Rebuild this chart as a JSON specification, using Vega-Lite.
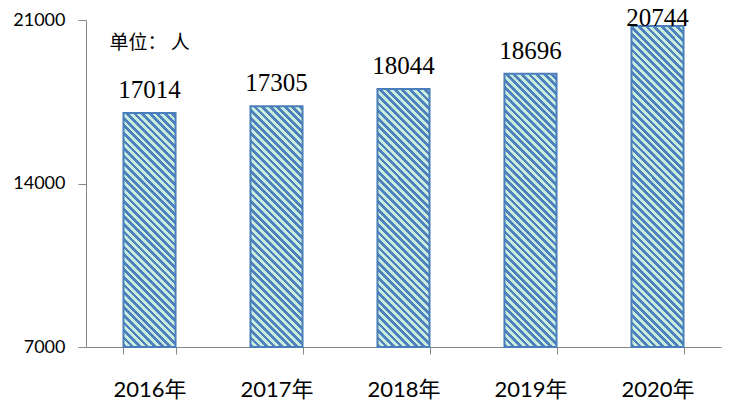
{
  "$schema": "https://vega.github.io/schema/vega-lite/v6.json",
  "width": 635,
  "height": 327,
  "autosize": {"type": "none"},
  "padding": {"left": 86, "top": 20, "right": 23, "bottom": 56},
  "background": "white",
  "config": {
    "view": {"stroke": null},
    "axisY": {
      "grid": false,
      "domainColor": "#868686",
      "tickColor": "#868686",
      "tickSize": 8,
      "labelFont": "Lato",
      "labelFontSize": 18,
      "labelColor": "black",
      "labelPadding": 13
    }
  },
  "data": {
    "values": [
      {"year": "2016年", "value": 17014},
      {"year": "2017年", "value": 17305},
      {"year": "2018年", "value": 18044},
      {"year": "2019年", "value": 18696},
      {"year": "2020年", "value": 20744}
    ]
  },
  "encoding": {
    "x": {
      "field": "year",
      "type": "nominal",
      "sort": null,
      "title": null,
      "scale": {"paddingInner": 0.59, "paddingOuter": 0.295},
      "axis": {
        "labelAngle": 0,
        "domainColor": "#868686",
        "tickColor": "#868686",
        "tickSize": 7,
        "tickBand": "extent",
        "labelFont": "Lato, Noto Sans CJK SC",
        "labelFontSize": 22,
        "labelColor": "black",
        "labelBaseline": "alphabetic",
        "labelPadding": 42
      }
    }
  },
  "layer": [
    {
      "mark": {
        "type": "bar",
        "fill": {
          "gradient": "linear",
          "x1": 0, "y1": 1, "x2": 0.18003, "y2": -0.13057,
          "stops": [
            {"offset": 0, "color": "#4f81bd"},
            {"offset": 0.01, "color": "#4f81bd"}, {"offset": 0.01, "color": "#c8ecde"},
            {"offset": 0.02, "color": "#c8ecde"}, {"offset": 0.02, "color": "#4f81bd"},
            {"offset": 0.03, "color": "#4f81bd"}, {"offset": 0.03, "color": "#c8ecde"},
            {"offset": 0.04, "color": "#c8ecde"}, {"offset": 0.04, "color": "#4f81bd"},
            {"offset": 0.05, "color": "#4f81bd"}, {"offset": 0.05, "color": "#c8ecde"},
            {"offset": 0.06, "color": "#c8ecde"}, {"offset": 0.06, "color": "#4f81bd"},
            {"offset": 0.07, "color": "#4f81bd"}, {"offset": 0.07, "color": "#c8ecde"},
            {"offset": 0.08, "color": "#c8ecde"}, {"offset": 0.08, "color": "#4f81bd"},
            {"offset": 0.09, "color": "#4f81bd"}, {"offset": 0.09, "color": "#c8ecde"},
            {"offset": 0.10, "color": "#c8ecde"}, {"offset": 0.10, "color": "#4f81bd"},
            {"offset": 0.11, "color": "#4f81bd"}, {"offset": 0.11, "color": "#c8ecde"},
            {"offset": 0.12, "color": "#c8ecde"}, {"offset": 0.12, "color": "#4f81bd"},
            {"offset": 0.13, "color": "#4f81bd"}, {"offset": 0.13, "color": "#c8ecde"},
            {"offset": 0.14, "color": "#c8ecde"}, {"offset": 0.14, "color": "#4f81bd"},
            {"offset": 0.15, "color": "#4f81bd"}, {"offset": 0.15, "color": "#c8ecde"},
            {"offset": 0.16, "color": "#c8ecde"}, {"offset": 0.16, "color": "#4f81bd"},
            {"offset": 0.17, "color": "#4f81bd"}, {"offset": 0.17, "color": "#c8ecde"},
            {"offset": 0.18, "color": "#c8ecde"}, {"offset": 0.18, "color": "#4f81bd"},
            {"offset": 0.19, "color": "#4f81bd"}, {"offset": 0.19, "color": "#c8ecde"},
            {"offset": 0.20, "color": "#c8ecde"}, {"offset": 0.20, "color": "#4f81bd"},
            {"offset": 0.21, "color": "#4f81bd"}, {"offset": 0.21, "color": "#c8ecde"},
            {"offset": 0.22, "color": "#c8ecde"}, {"offset": 0.22, "color": "#4f81bd"},
            {"offset": 0.23, "color": "#4f81bd"}, {"offset": 0.23, "color": "#c8ecde"},
            {"offset": 0.24, "color": "#c8ecde"}, {"offset": 0.24, "color": "#4f81bd"},
            {"offset": 0.25, "color": "#4f81bd"}, {"offset": 0.25, "color": "#c8ecde"},
            {"offset": 0.26, "color": "#c8ecde"}, {"offset": 0.26, "color": "#4f81bd"},
            {"offset": 0.27, "color": "#4f81bd"}, {"offset": 0.27, "color": "#c8ecde"},
            {"offset": 0.28, "color": "#c8ecde"}, {"offset": 0.28, "color": "#4f81bd"},
            {"offset": 0.29, "color": "#4f81bd"}, {"offset": 0.29, "color": "#c8ecde"},
            {"offset": 0.30, "color": "#c8ecde"}, {"offset": 0.30, "color": "#4f81bd"},
            {"offset": 0.31, "color": "#4f81bd"}, {"offset": 0.31, "color": "#c8ecde"},
            {"offset": 0.32, "color": "#c8ecde"}, {"offset": 0.32, "color": "#4f81bd"},
            {"offset": 0.33, "color": "#4f81bd"}, {"offset": 0.33, "color": "#c8ecde"},
            {"offset": 0.34, "color": "#c8ecde"}, {"offset": 0.34, "color": "#4f81bd"},
            {"offset": 0.35, "color": "#4f81bd"}, {"offset": 0.35, "color": "#c8ecde"},
            {"offset": 0.36, "color": "#c8ecde"}, {"offset": 0.36, "color": "#4f81bd"},
            {"offset": 0.37, "color": "#4f81bd"}, {"offset": 0.37, "color": "#c8ecde"},
            {"offset": 0.38, "color": "#c8ecde"}, {"offset": 0.38, "color": "#4f81bd"},
            {"offset": 0.39, "color": "#4f81bd"}, {"offset": 0.39, "color": "#c8ecde"},
            {"offset": 0.40, "color": "#c8ecde"}, {"offset": 0.40, "color": "#4f81bd"},
            {"offset": 0.41, "color": "#4f81bd"}, {"offset": 0.41, "color": "#c8ecde"},
            {"offset": 0.42, "color": "#c8ecde"}, {"offset": 0.42, "color": "#4f81bd"},
            {"offset": 0.43, "color": "#4f81bd"}, {"offset": 0.43, "color": "#c8ecde"},
            {"offset": 0.44, "color": "#c8ecde"}, {"offset": 0.44, "color": "#4f81bd"},
            {"offset": 0.45, "color": "#4f81bd"}, {"offset": 0.45, "color": "#c8ecde"},
            {"offset": 0.46, "color": "#c8ecde"}, {"offset": 0.46, "color": "#4f81bd"},
            {"offset": 0.47, "color": "#4f81bd"}, {"offset": 0.47, "color": "#c8ecde"},
            {"offset": 0.48, "color": "#c8ecde"}, {"offset": 0.48, "color": "#4f81bd"},
            {"offset": 0.49, "color": "#4f81bd"}, {"offset": 0.49, "color": "#c8ecde"},
            {"offset": 0.50, "color": "#c8ecde"}, {"offset": 0.50, "color": "#4f81bd"},
            {"offset": 0.51, "color": "#4f81bd"}, {"offset": 0.51, "color": "#c8ecde"},
            {"offset": 0.52, "color": "#c8ecde"}, {"offset": 0.52, "color": "#4f81bd"},
            {"offset": 0.53, "color": "#4f81bd"}, {"offset": 0.53, "color": "#c8ecde"},
            {"offset": 0.54, "color": "#c8ecde"}, {"offset": 0.54, "color": "#4f81bd"},
            {"offset": 0.55, "color": "#4f81bd"}, {"offset": 0.55, "color": "#c8ecde"},
            {"offset": 0.56, "color": "#c8ecde"}, {"offset": 0.56, "color": "#4f81bd"},
            {"offset": 0.57, "color": "#4f81bd"}, {"offset": 0.57, "color": "#c8ecde"},
            {"offset": 0.58, "color": "#c8ecde"}, {"offset": 0.58, "color": "#4f81bd"},
            {"offset": 0.59, "color": "#4f81bd"}, {"offset": 0.59, "color": "#c8ecde"},
            {"offset": 0.60, "color": "#c8ecde"}, {"offset": 0.60, "color": "#4f81bd"},
            {"offset": 0.61, "color": "#4f81bd"}, {"offset": 0.61, "color": "#c8ecde"},
            {"offset": 0.62, "color": "#c8ecde"}, {"offset": 0.62, "color": "#4f81bd"},
            {"offset": 0.63, "color": "#4f81bd"}, {"offset": 0.63, "color": "#c8ecde"},
            {"offset": 0.64, "color": "#c8ecde"}, {"offset": 0.64, "color": "#4f81bd"},
            {"offset": 0.65, "color": "#4f81bd"}, {"offset": 0.65, "color": "#c8ecde"},
            {"offset": 0.66, "color": "#c8ecde"}, {"offset": 0.66, "color": "#4f81bd"},
            {"offset": 0.67, "color": "#4f81bd"}, {"offset": 0.67, "color": "#c8ecde"},
            {"offset": 0.68, "color": "#c8ecde"}, {"offset": 0.68, "color": "#4f81bd"},
            {"offset": 0.69, "color": "#4f81bd"}, {"offset": 0.69, "color": "#c8ecde"},
            {"offset": 0.70, "color": "#c8ecde"}, {"offset": 0.70, "color": "#4f81bd"},
            {"offset": 0.71, "color": "#4f81bd"}, {"offset": 0.71, "color": "#c8ecde"},
            {"offset": 0.72, "color": "#c8ecde"}, {"offset": 0.72, "color": "#4f81bd"},
            {"offset": 0.73, "color": "#4f81bd"}, {"offset": 0.73, "color": "#c8ecde"},
            {"offset": 0.74, "color": "#c8ecde"}, {"offset": 0.74, "color": "#4f81bd"},
            {"offset": 0.75, "color": "#4f81bd"}, {"offset": 0.75, "color": "#c8ecde"},
            {"offset": 0.76, "color": "#c8ecde"}, {"offset": 0.76, "color": "#4f81bd"},
            {"offset": 0.77, "color": "#4f81bd"}, {"offset": 0.77, "color": "#c8ecde"},
            {"offset": 0.78, "color": "#c8ecde"}, {"offset": 0.78, "color": "#4f81bd"},
            {"offset": 0.79, "color": "#4f81bd"}, {"offset": 0.79, "color": "#c8ecde"},
            {"offset": 0.80, "color": "#c8ecde"}, {"offset": 0.80, "color": "#4f81bd"},
            {"offset": 0.81, "color": "#4f81bd"}, {"offset": 0.81, "color": "#c8ecde"},
            {"offset": 0.82, "color": "#c8ecde"}, {"offset": 0.82, "color": "#4f81bd"},
            {"offset": 0.83, "color": "#4f81bd"}, {"offset": 0.83, "color": "#c8ecde"},
            {"offset": 0.84, "color": "#c8ecde"}, {"offset": 0.84, "color": "#4f81bd"},
            {"offset": 0.85, "color": "#4f81bd"}, {"offset": 0.85, "color": "#c8ecde"},
            {"offset": 0.86, "color": "#c8ecde"}, {"offset": 0.86, "color": "#4f81bd"},
            {"offset": 0.87, "color": "#4f81bd"}, {"offset": 0.87, "color": "#c8ecde"},
            {"offset": 0.88, "color": "#c8ecde"}, {"offset": 0.88, "color": "#4f81bd"},
            {"offset": 0.89, "color": "#4f81bd"}, {"offset": 0.89, "color": "#c8ecde"},
            {"offset": 0.90, "color": "#c8ecde"}, {"offset": 0.90, "color": "#4f81bd"},
            {"offset": 0.91, "color": "#4f81bd"}, {"offset": 0.91, "color": "#c8ecde"},
            {"offset": 0.92, "color": "#c8ecde"}, {"offset": 0.92, "color": "#4f81bd"},
            {"offset": 0.93, "color": "#4f81bd"}, {"offset": 0.93, "color": "#c8ecde"},
            {"offset": 0.94, "color": "#c8ecde"}, {"offset": 0.94, "color": "#4f81bd"},
            {"offset": 0.95, "color": "#4f81bd"}, {"offset": 0.95, "color": "#c8ecde"},
            {"offset": 0.96, "color": "#c8ecde"}, {"offset": 0.96, "color": "#4f81bd"},
            {"offset": 0.97, "color": "#4f81bd"}, {"offset": 0.97, "color": "#c8ecde"},
            {"offset": 0.98, "color": "#c8ecde"}, {"offset": 0.98, "color": "#4f81bd"},
            {"offset": 0.99, "color": "#4f81bd"}, {"offset": 0.99, "color": "#c8ecde"},
            {"offset": 1, "color": "#c8ecde"}
          ]
        }
      },
      "encoding": {
        "y": {
          "datum": 21000,
          "type": "quantitative",
          "title": null,
          "scale": {"domain": [7000, 21000], "zero": false, "nice": false},
          "axis": {"values": [7000, 14000, 21000], "format": "d"}
        },
        "y2": {"datum": 7000}
      }
    },
    {
      "mark": {"type": "bar", "fill": "white", "stroke": "white", "strokeWidth": 1},
      "encoding": {
        "y": {"field": "value", "type": "quantitative", "title": null,
              "axis": {"values": [7000, 14000, 21000], "format": "d"}},
        "y2": {"datum": 21000}
      }
    },
    {
      "mark": {"type": "bar", "fill": "transparent", "stroke": "#4a7ebb", "strokeWidth": 2},
      "encoding": {
        "y": {"field": "value", "type": "quantitative", "title": null,
              "axis": {"values": [7000, 14000, 21000], "format": "d"}},
        "y2": {"datum": 7000}
      }
    },
    {
      "transform": [{"filter": "datum.year !== '2020年'"}],
      "mark": {"type": "text", "font": "Liberation Serif", "fontSize": 25, "baseline": "alphabetic", "dy": -15, "color": "black"},
      "encoding": {
        "y": {"field": "value", "type": "quantitative", "title": null,
              "axis": {"values": [7000, 14000, 21000], "format": "d"}},
        "text": {"field": "value", "type": "quantitative", "format": "d"}
      }
    },
    {
      "transform": [{"filter": "datum.year === '2020年'"}],
      "mark": {"type": "text", "font": "Liberation Serif", "fontSize": 25, "baseline": "alphabetic", "dy": 0, "color": "black"},
      "encoding": {
        "y": {"field": "value", "type": "quantitative", "title": null,
              "axis": {"values": [7000, 14000, 21000], "format": "d"}},
        "text": {"field": "value", "type": "quantitative", "format": "d"}
      }
    },
    {
      "data": {"values": [{"note": "单位： 人"}]},
      "mark": {"type": "text", "font": "Noto Sans CJK SC", "fontSize": 19, "align": "left", "baseline": "middle", "dx": -40, "color": "black"},
      "encoding": {
        "x": {"datum": "2016年", "type": "nominal"},
        "y": {"datum": 20000, "type": "quantitative", "title": null,
              "axis": {"values": [7000, 14000, 21000], "format": "d"}},
        "text": {"field": "note", "type": "nominal"}
      }
    }
  ]
}
